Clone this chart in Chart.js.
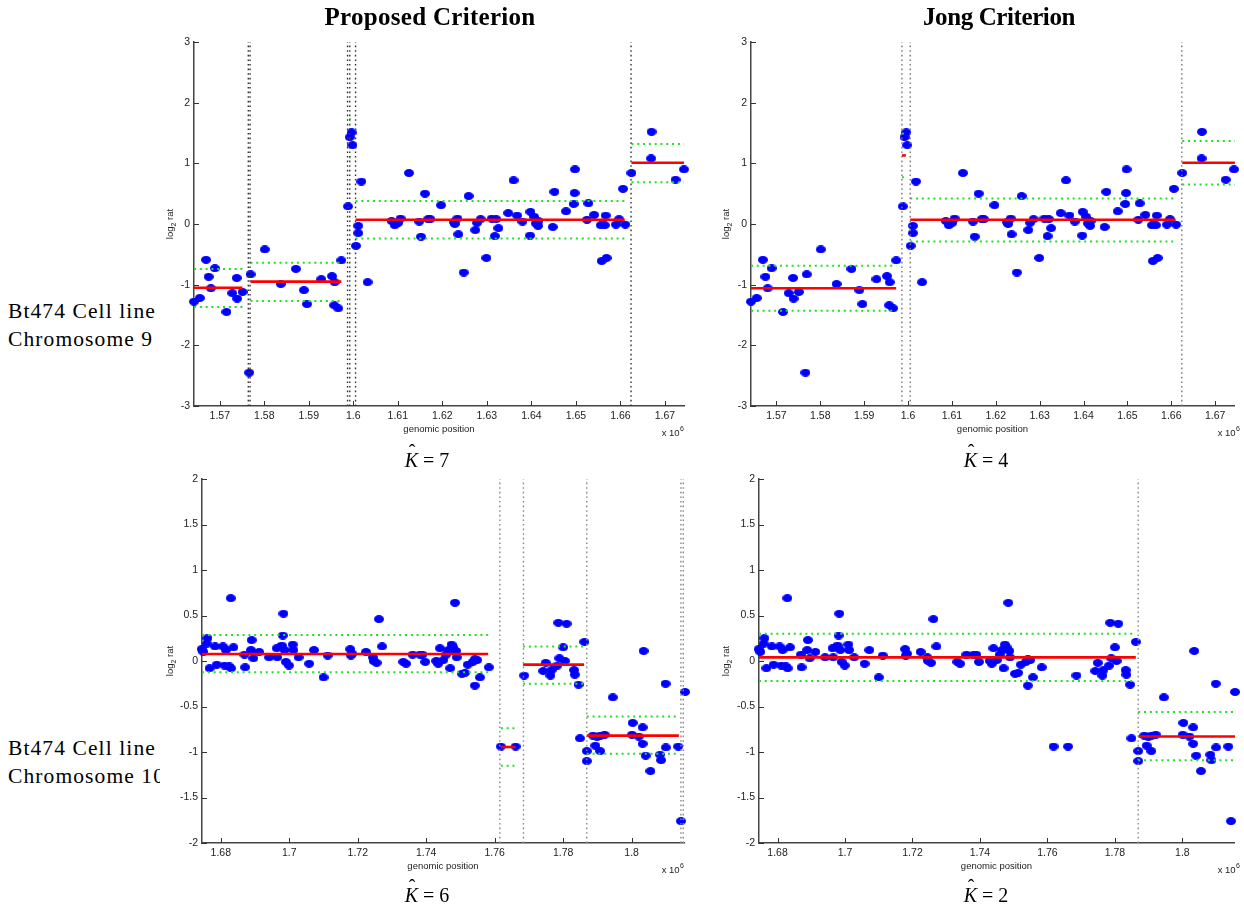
<!DOCTYPE html>
<html>
<head>
<meta charset="utf-8">
<script src="https://cdn.jsdelivr.net/npm/chart.js@4.4.0/dist/chart.umd.min.js"></script>
<style>
body { margin: 0; background: #fff; width: 1244px; height: 905px; position: relative; overflow: hidden; font-family: 'Liberation Serif', serif; }
canvas { position: absolute; background: #fff; z-index: 2; }
.title { position: absolute; top: 3px; font-weight: bold; font-size: 25px; transform: translateX(-50%); white-space: nowrap; z-index: 3; }
.row { position: absolute; left: 8px; font-size: 21.5px; line-height: 28px; letter-spacing: 1.1px; z-index: 1; white-space: nowrap; }
.khat { position: absolute; font-size: 20px; transform: translateX(-50%); white-space: nowrap; z-index: 3; }
.khat .k { position: relative; font-style: italic; }
.khat .hat { position: absolute; left: 4px; top: -8px; font-style: normal; }
</style>
</head>
<body>
<div class="title" style="left:430px;letter-spacing:0.3px">Proposed Criterion</div>
<div class="title" style="left:999px;letter-spacing:-0.4px">Jong Criterion</div>
<div class="row" style="top:297px">Bt474 Cell line<br>Chromosome 9</div>
<div class="row" style="top:734px">Bt474 Cell line<br>Chromosome 10</div>
<div class="khat" style="left:427px;top:449px"><span class="k">K<span class="hat">ˆ</span></span> = 7</div>
<div class="khat" style="left:986px;top:449px"><span class="k">K<span class="hat">ˆ</span></span> = 4</div>
<div class="khat" style="left:427px;top:884px"><span class="k">K<span class="hat">ˆ</span></span> = 6</div>
<div class="khat" style="left:986px;top:884px"><span class="k">K<span class="hat">ˆ</span></span> = 2</div>
<canvas id="tl"></canvas>
<canvas id="tr"></canvas>
<canvas id="bl"></canvas>
<canvas id="br"></canvas>
<script>
// chromosome 9 probes (genomic position x 10^6, log2 ratio)
const chr9Pos = [1.5642, 1.5655, 1.5669, 1.5675, 1.5680, 1.5689, 1.5715, 1.5728, 1.5738, 1.5739,
  1.5751, 1.5766, 1.5769, 1.5801, 1.5837, 1.5871, 1.5889, 1.5896, 1.5928, 1.5952,
  1.5957, 1.5958, 1.5966, 1.5973, 1.5988, 1.5992, 1.5996, 1.5998, 1.6006, 1.6011,
  1.6011, 1.6018, 1.6032, 1.6086, 1.6093, 1.6101, 1.6106, 1.6125, 1.6148, 1.6152,
  1.6161, 1.6168, 1.6173, 1.6197, 1.6226, 1.6228, 1.6234, 1.6236, 1.6248, 1.6259,
  1.6274, 1.6278, 1.6286, 1.6299, 1.6311, 1.6318, 1.6321, 1.6326, 1.6348, 1.6360,
  1.6368, 1.6380, 1.6397, 1.6398, 1.6406, 1.6410, 1.6415, 1.6416, 1.6448, 1.6452,
  1.6478, 1.6495, 1.6497, 1.6498, 1.6525, 1.6528, 1.6541, 1.6556, 1.6558, 1.6565,
  1.6567, 1.6569, 1.6590, 1.6597, 1.6606, 1.6611, 1.6625, 1.6669, 1.6670, 1.6724,
  1.6743, 1.6745];
const chr9Val = [-1.28, -1.22, -0.59, -0.87, -1.06, -0.73, -1.45, -1.14, -0.89, -1.23,
  -1.12, -2.45, -0.83, -0.42, -0.99, -0.74, -1.09, -1.32, -0.91, -0.86,
  -1.34, -0.96, -1.39, -0.60, 0.29, 1.43, 1.51, 1.30, -0.36, -0.03,
  -0.15, 0.70, -0.96, 0.05, -0.02, 0.02, 0.09, 0.84, 0.04, -0.21,
  0.50, 0.08, 0.08, 0.31, 0.03, 0.00, 0.09, -0.17, -0.80, 0.46,
  -0.10, 0.02, 0.08, -0.56, 0.09, -0.20, 0.08, -0.07, 0.18, 0.72,
  0.14, 0.04, -0.19, 0.20, 0.12, 0.01, -0.03, 0.05, -0.05, 0.53,
  0.21, 0.33, 0.51, 0.90, 0.07, 0.34, 0.15, -0.02, -0.61, -0.02,
  0.14, -0.56, -0.01, 0.08, 0.58, -0.01, 0.84, 1.08, 1.52, 0.73,
  0.90, 0.99];

// chromosome 10 probes
const chr10Pos = [1.6744, 1.6749, 1.6759, 1.6761, 1.6767, 1.6783, 1.6788, 1.6806, 1.6811, 1.6815,
  1.6825, 1.6829, 1.6830, 1.6837, 1.6869, 1.6871, 1.6888, 1.6890, 1.6895, 1.6912,
  1.6941, 1.6963, 1.6965, 1.6973, 1.6978, 1.6981, 1.6983, 1.6986, 1.6990, 1.6999,
  1.7010, 1.7012, 1.7027, 1.7058, 1.7072, 1.7100, 1.7112, 1.7178, 1.7180, 1.7184,
  1.7224, 1.7244, 1.7246, 1.7255, 1.7262, 1.7271, 1.7333, 1.7341, 1.7360, 1.7382,
  1.7389, 1.7397, 1.7429, 1.7435, 1.7440, 1.7450, 1.7458, 1.7465, 1.7470, 1.7474,
  1.7479, 1.7484, 1.7487, 1.7489, 1.7504, 1.7513, 1.7521, 1.7536, 1.7542, 1.7542,
  1.7549, 1.7557, 1.7583, 1.7618, 1.7661, 1.7686, 1.7742, 1.7749, 1.7763, 1.7766,
  1.7783, 1.7786, 1.7789, 1.7800, 1.7805, 1.7810, 1.7832, 1.7834, 1.7845, 1.7849,
  1.7862, 1.7869, 1.7869, 1.7887, 1.7894, 1.7899, 1.7908, 1.7908, 1.7921, 1.7945,
  1.8001, 1.8003, 1.8021, 1.8032, 1.8032, 1.8035, 1.8041, 1.8055, 1.8083, 1.8086,
  1.8099, 1.8100, 1.8136, 1.8144, 1.8156];
const chr10Val = [0.13, 0.10, 0.19, 0.25, -0.08, 0.16, -0.04, 0.16, -0.05, 0.12,
  -0.06, 0.69, -0.08, 0.15, 0.07, -0.07, 0.12, 0.23, 0.03, 0.10,
  0.04, 0.14, 0.04, 0.15, 0.17, 0.28, 0.52, 0.12, -0.01, -0.05,
  0.18, 0.12, 0.04, -0.03, 0.12, -0.18, 0.06, 0.13, 0.06, 0.08,
  0.10, 0.04, 0.00, -0.02, 0.46, 0.16, -0.01, -0.03, 0.07, 0.07,
  0.07, -0.01, 0.00, -0.03, 0.14, 0.01, 0.07, 0.12, -0.08, 0.18,
  0.15, 0.64, 0.11, 0.04, -0.14, -0.13, -0.04, -0.01, -0.27, 0.02,
  0.01, -0.18, -0.07, -0.94, -0.94, -0.16, -0.11, -0.02, -0.16, -0.10,
  -0.05, 0.42, 0.03, 0.15, 0.00, 0.41, -0.10, -0.15, -0.26, -0.85,
  0.21, -0.99, -1.10, -0.82, -0.93, -0.83, -0.99, -0.82, -0.81, -0.40,
  -0.81, -0.68, -0.83, -0.73, -0.91, 0.11, -1.04, -1.21, -1.03, -1.09,
  -0.25, -0.95, -0.94, -1.76, -0.34];

// segments: [start, end, mean, upper band, lower band]
const prop9Segments = [
  [1.5642, 1.5751, -1.05, -0.74, -1.37],
  [1.5769, 1.5973, -0.95, -0.64, -1.27],
  [1.5991, 1.5994, 1.41, 1.73, 1.10],
  [1.6005, 1.6610, 0.07, 0.38, -0.24],
  [1.6625, 1.6743, 1.01, 1.32, 0.69]
];
const prop9Breaks = [1.5764, 1.5768, 1.5987, 1.5992, 1.6005, 1.6624];

const jong9Segments = [
  [1.5642, 1.5973, -1.06, -0.69, -1.43],
  [1.5986, 1.5995, 1.13, 1.49, 0.77],
  [1.6005, 1.6610, 0.07, 0.42, -0.29],
  [1.6625, 1.6745, 1.01, 1.37, 0.65]
];
const jong9Breaks = [1.5986, 1.6005, 1.6624];

const prop10Segments = [
  [1.6745, 1.7581, 0.077, 0.286, -0.124],
  [1.7618, 1.7661, -0.945, -0.74, -1.15],
  [1.7683, 1.7861, -0.04, 0.16, -0.25],
  [1.7869, 1.8138, -0.82, -0.61, -1.02]
];
const prop10Breaks = [1.7615, 1.7684, 1.7869, 1.8144, 1.8151];

const jong10Segments = [
  [1.6745, 1.7862, 0.04, 0.30, -0.22],
  [1.7869, 1.8156, -0.83, -0.56, -1.09]
];
const jong10Breaks = [1.7869];

// axis ticks
const xTicksChr9 = [1.57, 1.58, 1.59, 1.6, 1.61, 1.62, 1.63, 1.64, 1.65, 1.66, 1.67];
const xTicksChr10 = [1.68, 1.7, 1.72, 1.74, 1.76, 1.78, 1.8];
const yTicksChr9 = [-3, -2, -1, 0, 1, 2, 3];
const yTicksChr10 = [-2, -1.5, -1, -0.5, 0, 0.5, 1, 1.5, 2];

const X_AXIS_H = 30;
const Y_AXIS_W = 34;

// blue ellipse marker like the matlab dots
function makeDot() {
    const c = document.createElement('canvas');
    c.width = 10;
    c.height = 8;
    const g = c.getContext('2d');
    g.fillStyle = '#0000ff';
    g.beginPath();
    g.ellipse(5, 4, 5, 4, 0, 0, 2 * Math.PI);
    g.fill();
    return c;
}
const dot = makeDot();

function fmt(v) {
    return String(parseFloat(v.toFixed(2)));
}

// inward ticks, axis captions, x10^6 exponent
const decorPlugin = {
    id: 'decor',
    afterDraw(chart, args, opts) {
        const { ctx, chartArea: a, scales } = chart;
        const xs = scales.x, ys = scales.y;
        ctx.save();
        ctx.strokeStyle = '#333';
        ctx.lineWidth = 1;
        ctx.beginPath();
        xs.ticks.forEach(t => {
            const px = Math.round(xs.getPixelForValue(t.value)) + 0.5;
            ctx.moveTo(px, a.bottom);
            ctx.lineTo(px, a.bottom - 5);
        });
        ys.ticks.forEach(t => {
            const py = Math.round(ys.getPixelForValue(t.value)) + 0.5;
            ctx.moveTo(a.left, py);
            ctx.lineTo(a.left + 5, py);
        });
        ctx.stroke();

        ctx.fillStyle = '#222';
        ctx.font = '9.5px "Liberation Sans", Arial, sans-serif';
        ctx.textAlign = 'center';
        ctx.textBaseline = 'middle';
        ctx.fillText('genomic position', (a.left + a.right) / 2, a.bottom + 23);

        // x 10^6
        ctx.textBaseline = 'alphabetic';
        ctx.textAlign = 'right';
        const ex = a.right + opts.expDx;
        ctx.font = '7px "Liberation Sans", Arial, sans-serif';
        ctx.fillText('6', ex, a.bottom + 25);
        const w6 = ctx.measureText('6').width + 0.5;
        ctx.font = '9.5px "Liberation Sans", Arial, sans-serif';
        ctx.fillText('x 10', ex - w6, a.bottom + 30);

        // log2 rat (rotated)
        ctx.translate(opts.ylabX, (a.top + a.bottom) / 2);
        ctx.rotate(-Math.PI / 2);
        ctx.textAlign = 'left';
        const big = '9.5px "Liberation Sans", Arial, sans-serif';
        const small = '7px "Liberation Sans", Arial, sans-serif';
        ctx.font = big;
        const wLog = ctx.measureText('log').width;
        const wRat = ctx.measureText(' rat').width;
        ctx.font = small;
        const w2 = ctx.measureText('2').width;
        let sx = -(wLog + w2 + wRat) / 2;
        ctx.font = big;
        ctx.fillText('log', sx, 3);
        ctx.font = small;
        ctx.fillText('2', sx + wLog, 6);
        ctx.font = big;
        ctx.fillText(' rat', sx + wLog + w2, 3);
        ctx.restore();
    }
};

function lineSet(points, color, width, dash) {
    return {
        type: 'scatter',
        data: points,
        showLine: true,
        borderColor: color,
        backgroundColor: color,
        borderWidth: width,
        borderDash: dash || [],
        pointRadius: 0,
        clip: false,
        order: 1
    };
}

function makePanel(id, box, area, xRange, yRange, xTicks, yTicks, pos, val, segments, breaks, breakColor, ylabX, expDx) {
    const canvas = document.getElementById(id);
    canvas.width = box.w;
    canvas.height = box.h;
    canvas.style.left = box.x + 'px';
    canvas.style.top = box.y + 'px';

    const datasets = [];
    // change point markers
    breaks.forEach(b => {
        datasets.push(lineSet([{ x: b, y: yRange[0] }, { x: b, y: yRange[1] }], breakColor, 1.4, [1.6, 3]));
    });
    // probes
    datasets.push({
        type: 'scatter',
        data: pos.map((x, i) => ({ x: x, y: val[i] })),
        pointStyle: dot,
        pointRadius: 4,
        clip: false,
        order: 2
    });
    // segment means and bands
    segments.forEach(s => {
        datasets.push(lineSet([{ x: s[0], y: s[3] }, { x: s[1], y: s[3] }], '#22e022', 2, [2, 3.8]));
        datasets.push(lineSet([{ x: s[0], y: s[4] }, { x: s[1], y: s[4] }], '#22e022', 2, [2, 3.8]));
        datasets.push(lineSet([{ x: s[0], y: s[2] }, { x: s[1], y: s[2] }], '#ff0000', 2.6));
    });

    const tickFont = { family: '"Liberation Sans", Arial, sans-serif', size: 10.5 };

    return new Chart(canvas, {
        type: 'scatter',
        data: { datasets: datasets },
        options: {
            responsive: false,
            animation: false,
            devicePixelRatio: 1,
            layout: {
                padding: {
                    left: area.l - box.x - Y_AXIS_W,
                    right: box.x + box.w - area.r,
                    top: area.t - box.y,
                    bottom: box.y + box.h - area.b - X_AXIS_H
                }
            },
            plugins: {
                legend: { display: false },
                tooltip: { enabled: false },
                decor: { ylabX: ylabX - box.x, expDx: expDx }
            },
            scales: {
                x: {
                    type: 'linear',
                    min: xRange[0],
                    max: xRange[1],
                    afterBuildTicks: s => { s.ticks = xTicks.map(v => ({ value: v })); },
                    afterFit: s => { s.height = X_AXIS_H; },
                    ticks: {
                        callback: v => fmt(v),
                        font: tickFont,
                        color: '#222',
                        padding: 4,
                        maxRotation: 0,
                        autoSkip: false
                    },
                    grid: { display: false, drawTicks: false },
                    border: { display: true, color: '#444', width: 1.5 }
                },
                y: {
                    type: 'linear',
                    min: yRange[0],
                    max: yRange[1],
                    afterBuildTicks: s => { s.ticks = yTicks.map(v => ({ value: v })); },
                    afterFit: s => { s.width = Y_AXIS_W; },
                    ticks: {
                        callback: v => fmt(v),
                        font: tickFont,
                        color: '#222',
                        padding: 4,
                        autoSkip: false
                    },
                    grid: { display: false, drawTicks: false },
                    border: { display: true, color: '#444', width: 1.5 }
                }
            }
        },
        plugins: [decorPlugin]
    });
}

const chr9Range = [1.5642, 1.6743];
const chr10Range = [1.6745, 1.8153];

makePanel('tl', { x: 160, y: 28, w: 540, h: 418 }, { l: 194, r: 684, t: 42, b: 406 },
    chr9Range, [-3, 3], xTicksChr9, yTicksChr9, chr9Pos, chr9Val, prop9Segments, prop9Breaks, '#333', 170, 0);
makePanel('tr', { x: 712, y: 28, w: 532, h: 418 }, { l: 751, r: 1234, t: 42, b: 406 },
    chr9Range, [-3, 3], xTicksChr9, yTicksChr9, chr9Pos, chr9Val, jong9Segments, jong9Breaks, '#777', 726, 6);
makePanel('bl', { x: 160, y: 466, w: 540, h: 416 }, { l: 202, r: 684, t: 479, b: 843 },
    chr10Range, [-2, 2], xTicksChr10, yTicksChr10, chr10Pos, chr10Val, prop10Segments, prop10Breaks, '#888', 170, 0);
makePanel('br', { x: 712, y: 466, w: 532, h: 416 }, { l: 759, r: 1234, t: 479, b: 843 },
    chr10Range, [-2, 2], xTicksChr10, yTicksChr10, chr10Pos, chr10Val, jong10Segments, jong10Breaks, '#888', 726, 6);
</script>
</body>
</html>
